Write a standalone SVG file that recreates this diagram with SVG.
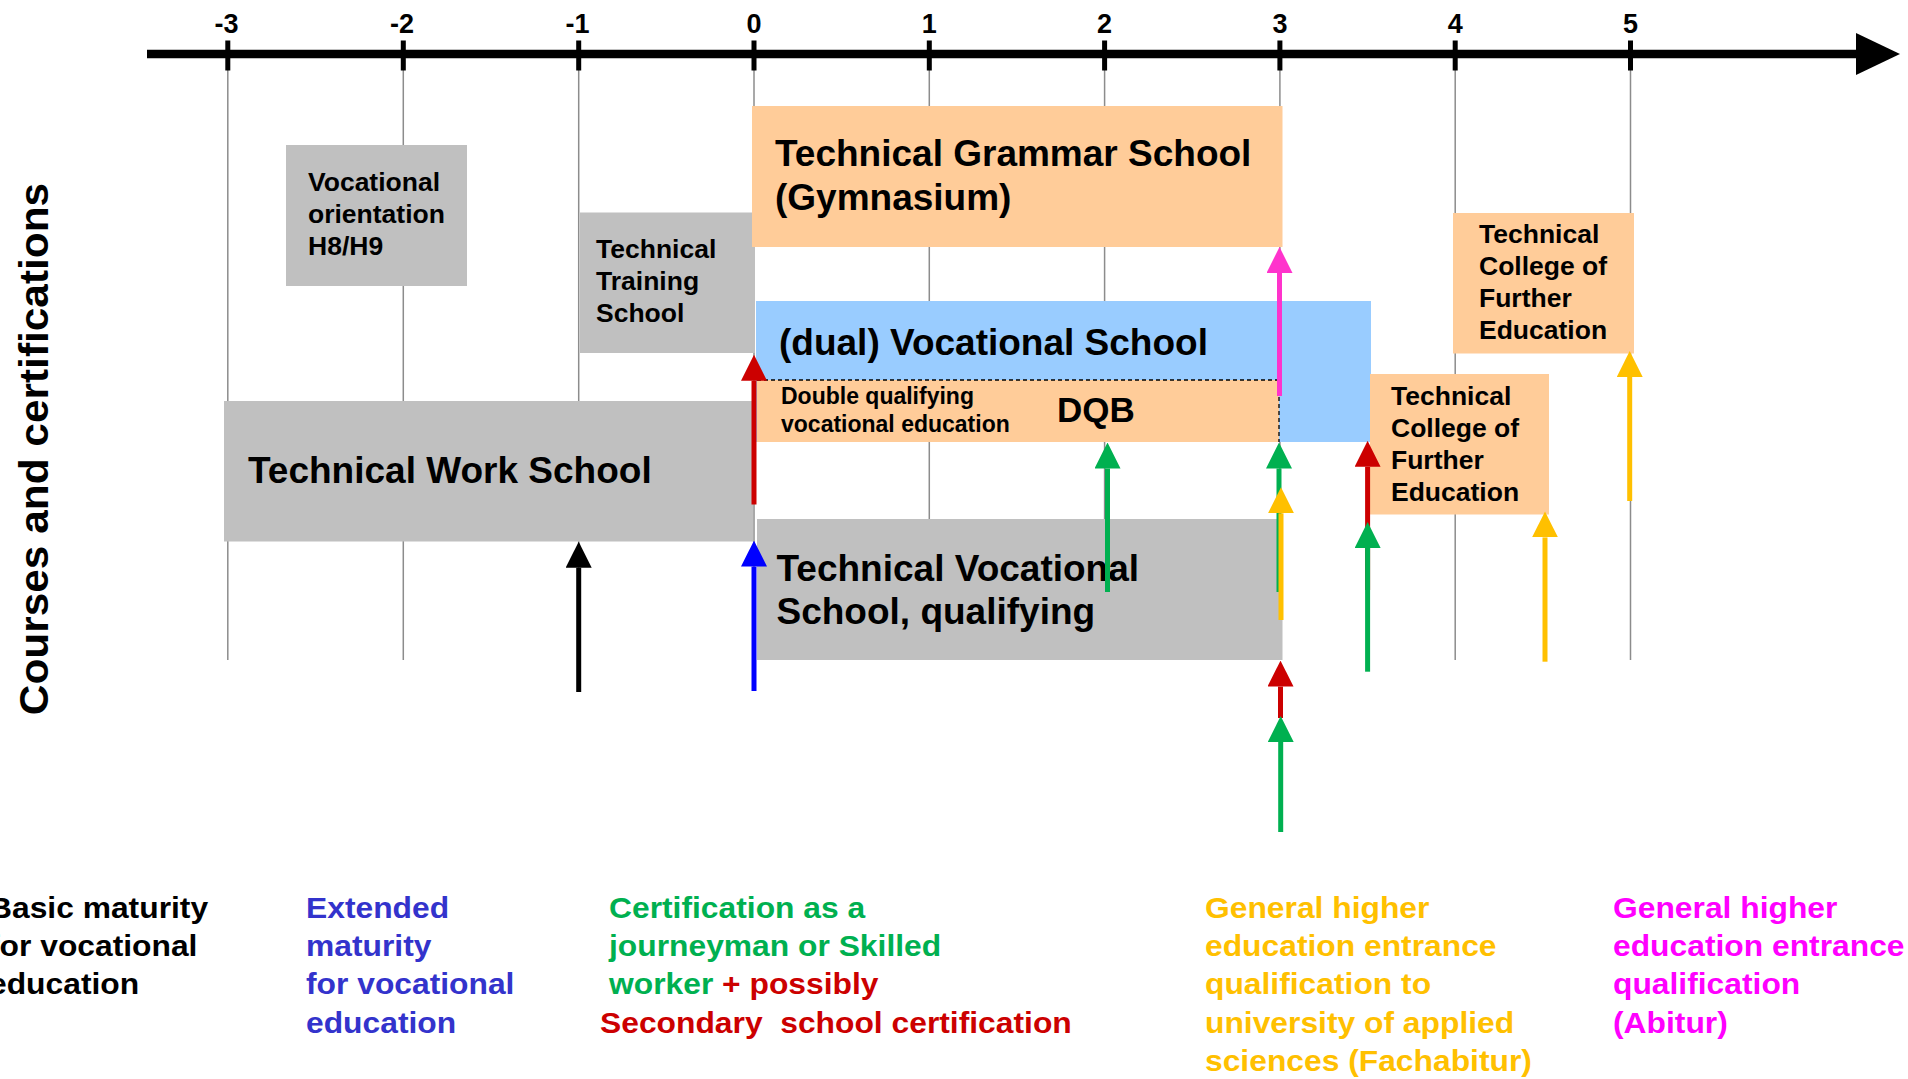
<svg xmlns="http://www.w3.org/2000/svg" width="1908" height="1079" viewBox="0 0 1908 1079">
<style>
  text { font-family: "Liberation Sans", Arial, sans-serif; font-weight: bold; }
  .grid { stroke: #8c8c8c; stroke-width: 1.5; fill: none; }
  .tick { fill: #000; }
  .tl { font-size: 27px; text-anchor: middle; fill: #000; }
  .gray { fill: #c0c0c0; }
  .orange { fill: #ffcc99; }
  .blue { fill: #99ccff; }
  .big { font-size: 37px; fill: #000; }
  .mid { font-size: 26.5px; fill: #000; }
  .small { font-size: 23px; fill: #000; }
  .bot { font-size: 30px; }
  .shaft { stroke-width: 5; fill: none; }
</style>
<defs>
  <marker id="ah-k" markerUnits="userSpaceOnUse" viewBox="0 0 26 26" markerWidth="26" markerHeight="26" refX="0" refY="13" orient="auto"><path d="M0,0 L26,13 L0,26 Z" fill="#000000"/></marker>
  <marker id="ah-b" markerUnits="userSpaceOnUse" viewBox="0 0 26 26" markerWidth="26" markerHeight="26" refX="0" refY="13" orient="auto"><path d="M0,0 L26,13 L0,26 Z" fill="#0000ff"/></marker>
  <marker id="ah-r" markerUnits="userSpaceOnUse" viewBox="0 0 26 26" markerWidth="26" markerHeight="26" refX="0" refY="13" orient="auto"><path d="M0,0 L26,13 L0,26 Z" fill="#cc0000"/></marker>
  <marker id="ah-g" markerUnits="userSpaceOnUse" viewBox="0 0 26 26" markerWidth="26" markerHeight="26" refX="0" refY="13" orient="auto"><path d="M0,0 L26,13 L0,26 Z" fill="#00b050"/></marker>
  <marker id="ah-y" markerUnits="userSpaceOnUse" viewBox="0 0 26 26" markerWidth="26" markerHeight="26" refX="0" refY="13" orient="auto"><path d="M0,0 L26,13 L0,26 Z" fill="#ffc000"/></marker>
  <marker id="ah-p" markerUnits="userSpaceOnUse" viewBox="0 0 26 26" markerWidth="26" markerHeight="26" refX="0" refY="13" orient="auto"><path d="M0,0 L26,13 L0,26 Z" fill="#ff33cc"/></marker>
</defs>
<rect x="0" y="0" width="1908" height="1079" fill="#ffffff"/>

<g id="grid">
  <line class="grid" x1="227.8" y1="70" x2="227.8" y2="660"/>
  <line class="grid" x1="403.3" y1="70" x2="403.3" y2="660"/>
  <line class="grid" x1="578.7" y1="70" x2="578.7" y2="660"/>
  <line class="grid" x1="754" y1="70" x2="754" y2="660"/>
  <line class="grid" x1="929.3" y1="70" x2="929.3" y2="660"/>
  <line class="grid" x1="1104.6" y1="70" x2="1104.6" y2="660"/>
  <line class="grid" x1="1279.9" y1="70" x2="1279.9" y2="660"/>
  <line class="grid" x1="1455.2" y1="70" x2="1455.2" y2="660"/>
  <line class="grid" x1="1630.5" y1="70" x2="1630.5" y2="660"/>
</g>

<g id="axis">
  <line x1="147" y1="54" x2="1858" y2="54" stroke="#000" stroke-width="8.3"/>
  <polygon points="1856,33 1900,54 1856,75" fill="#000"/>
  <rect class="tick" x="225.3" y="40.5" width="5" height="30"/>
  <rect class="tick" x="400.8" y="40.5" width="5" height="30"/>
  <rect class="tick" x="576.2" y="40.5" width="5" height="30"/>
  <rect class="tick" x="751.5" y="40.5" width="5" height="30"/>
  <rect class="tick" x="926.8" y="40.5" width="5" height="30"/>
  <rect class="tick" x="1102.1" y="40.5" width="5" height="30"/>
  <rect class="tick" x="1277.4" y="40.5" width="5" height="30"/>
  <rect class="tick" x="1452.7" y="40.5" width="5" height="30"/>
  <rect class="tick" x="1628" y="40.5" width="5" height="30"/>
  <text class="tl" x="226.5" y="33">-3</text>
  <text class="tl" x="402" y="33">-2</text>
  <text class="tl" x="577.5" y="33">-1</text>
  <text class="tl" x="754" y="33">0</text>
  <text class="tl" x="929.3" y="33">1</text>
  <text class="tl" x="1104.6" y="33">2</text>
  <text class="tl" x="1279.9" y="33">3</text>
  <text class="tl" x="1455.2" y="33">4</text>
  <text class="tl" x="1630.5" y="33">5</text>
</g>

<text transform="translate(48,449) rotate(-90) scale(1.06,1)" font-size="40" text-anchor="middle" fill="#000">Courses and certifications</text>

<g id="vocational-orientation">
  <rect class="gray" x="286" y="145" width="181" height="141"/>
  <text class="mid" x="308" y="191">Vocational<tspan x="308" y="223">orientation</tspan><tspan x="308" y="255">H8/H9</tspan></text>
</g>

<g id="technical-training-school">
  <rect class="gray" x="580" y="212.5" width="175" height="140.5"/>
  <text class="mid" x="596" y="257.5">Technical<tspan x="596" y="289.5">Training</tspan><tspan x="596" y="321.5">School</tspan></text>
</g>

<g id="technical-grammar-school">
  <rect class="orange" x="752" y="106" width="530.5" height="141"/>
  <text class="big" x="775" y="165.5">Technical Grammar School<tspan x="775" y="210">(Gymnasium)</tspan></text>
</g>

<g id="dual-vocational-school">
  <rect class="blue" x="756" y="301" width="615" height="141"/>
  <text class="big" x="779" y="354.5">(dual) Vocational School</text>
</g>

<g id="dqb">
  <rect class="orange" x="757" y="380" width="522" height="62"/>
  <path d="M757,380 H1279 V442" fill="none" stroke="#000" stroke-width="1.3" stroke-dasharray="4,3"/>
  <text class="small" x="781" y="403.5">Double qualifying<tspan x="781" y="432">vocational education</tspan></text>
  <text x="1057" y="422" font-size="35" fill="#000">DQB</text>
</g>

<g id="technical-work-school">
  <rect class="gray" x="224" y="401" width="529" height="140.5"/>
  <text class="big" x="248" y="482.5">Technical Work School</text>
</g>

<g id="technical-vocational-school">
  <rect class="gray" x="757" y="519" width="525.5" height="141"/>
  <text class="big" x="776.5" y="580.5">Technical Vocational<tspan x="776.5" y="623.5">School, qualifying</tspan></text>
</g>

<g id="tcfe-upper">
  <rect class="orange" x="1453" y="213" width="181" height="140.5"/>
  <text class="mid" x="1479" y="242.5">Technical<tspan x="1479" y="274.5">College of</tspan><tspan x="1479" y="306.5">Further</tspan><tspan x="1479" y="338.5">Education</tspan></text>
</g>

<g id="tcfe-lower">
  <rect class="orange" x="1370" y="374" width="179" height="140.5"/>
  <text class="mid" x="1391" y="404.5">Technical<tspan x="1391" y="436.5">College of</tspan><tspan x="1391" y="468.5">Further</tspan><tspan x="1391" y="500.5">Education</tspan></text>
</g>

<g id="connectors">
  <line class="shaft" stroke="#000000" x1="578.7" y1="692" x2="578.7" y2="567.7" marker-end="url(#ah-k)"/>
  <line class="shaft" stroke="#0000ff" x1="754" y1="691" x2="754" y2="566.6" marker-end="url(#ah-b)"/>
  <line class="shaft" stroke="#cc0000" x1="754" y1="504.5" x2="754" y2="380.7" marker-end="url(#ah-r)"/>
  <line class="shaft" stroke="#ff33cc" x1="1279.5" y1="396" x2="1279.5" y2="273" marker-end="url(#ah-p)"/>
  <line class="shaft" stroke="#00b050" x1="1107.5" y1="592" x2="1107.5" y2="468.5" marker-end="url(#ah-g)"/>
  <line class="shaft" stroke="#00b050" x1="1279" y1="592" x2="1279" y2="468.5" marker-end="url(#ah-g)"/>
  <line class="shaft" stroke="#ffc000" x1="1281" y1="620" x2="1281" y2="513.3" marker-end="url(#ah-y)"/>
  <line class="shaft" stroke="#cc0000" x1="1280.5" y1="718" x2="1280.5" y2="686.6" marker-end="url(#ah-r)"/>
  <line class="shaft" stroke="#00b050" x1="1280.7" y1="832" x2="1280.7" y2="742" marker-end="url(#ah-g)"/>
  <line class="shaft" stroke="#cc0000" x1="1367.6" y1="590" x2="1367.6" y2="466.8" marker-end="url(#ah-r)"/>
  <line class="shaft" stroke="#00b050" x1="1367.6" y1="671.7" x2="1367.6" y2="548" marker-end="url(#ah-g)"/>
  <line class="shaft" stroke="#ffc000" x1="1545" y1="661.7" x2="1545" y2="537.4" marker-end="url(#ah-y)"/>
  <line class="shaft" stroke="#ffc000" x1="1629.7" y1="501" x2="1629.7" y2="377" marker-end="url(#ah-y)"/>
</g>

<g id="legend">
  <text class="bot" fill="#000000" transform="translate(-11,917.5) scale(1.06,1)">Basic maturity<tspan x="0" y="38.4">for vocational</tspan><tspan x="0" y="76.8">education</tspan></text>
  <text class="bot" fill="#3333cc" transform="translate(306,917.5) scale(1.06,1)">Extended<tspan x="0" y="38.4">maturity</tspan><tspan x="0" y="76.8">for vocational</tspan><tspan x="0" y="115.2">education</tspan></text>
  <text class="bot" fill="#00b050" transform="translate(609,917.5) scale(1.06,1)">Certification as a<tspan x="0" y="38.4">journeyman or Skilled</tspan><tspan x="0" y="76.8">worker <tspan fill="#cc0000">+ possibly</tspan></tspan></text>
  <text class="bot" fill="#cc0000" transform="translate(600,1032.7) scale(1.06,1)">Secondary&#160; school certification</text>
  <text class="bot" fill="#ffc000" transform="translate(1205,917.5) scale(1.06,1)">General higher<tspan x="0" y="38.4">education entrance</tspan><tspan x="0" y="76.8">qualification to</tspan><tspan x="0" y="115.2">university of applied</tspan><tspan x="0" y="153.6">sciences (Fachabitur)</tspan></text>
  <text class="bot" fill="#ff00ff" transform="translate(1613,917.5) scale(1.06,1)">General higher<tspan x="0" y="38.4">education entrance</tspan><tspan x="0" y="76.8">qualification</tspan><tspan x="0" y="115.2">(Abitur)</tspan></text>
</g>
</svg>
